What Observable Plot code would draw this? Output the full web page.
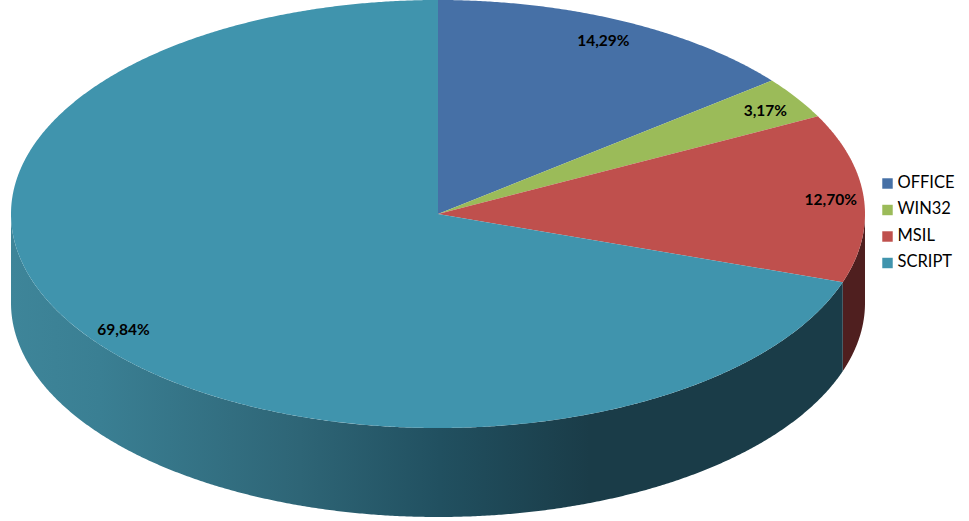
<!DOCTYPE html>
<html>
<head>
<meta charset="utf-8">
<script src="https://cdn.jsdelivr.net/npm/d3@7"></script>
<script src="https://cdn.jsdelivr.net/npm/@observablehq/plot@0.6"></script>
<style>
html,body{margin:0;padding:0;background:#fff;overflow:hidden}
svg{display:block}
</style>
</head>
<body>
<div id="chart"></div>
<script>
const categories = ["OFFICE", "WIN32", "MSIL", "SCRIPT"];
const shares = [14.29, 3.17, 12.70, 69.84];
const labels = ["14,29%", "3,17%", "12,70%", "69,84%"];
const topColors = ["#4670a6", "#9bbb59", "#bf504d", "#4094ad"];
const wallColors = ["#2a3d56", "#4d5d2c", "#4f1f1f", "url(#scriptWall)"];

const W = 969, H = 521;
const cx = 438, cy = 214, rx = 427, ry = 214, depth = 89;
const labelNudge = [[-2, 0], [4, 1], [9, 0], [-3, 3]];
const total = d3.sum(shares);
const px = a => cx + rx * Math.sin(a);
const py = a => cy - ry * Math.cos(a);

let acc = 0;
const slices = categories.map((name, i) => {
  const a0 = acc / total * 2 * Math.PI;
  acc += shares[i];
  const a1 = acc / total * 2 * Math.PI;
  return {name, i, a0, a1, mid: (a0 + a1) / 2};
});

const arcPoints = (a, b) => {
  const n = Math.max(2, Math.ceil((b - a) * 180));
  return d3.range(n + 1).map(k => a + (b - a) * k / n);
};

const topPts = slices.flatMap(s =>
  arcPoints(s.a0, s.a1).map(a => ({name: s.name, x: px(a), y: py(a)}))
);

// side wall: only the part of each slice that faces the viewer
const PI = Math.PI;
const wall = slices.flatMap((s, i) => {
  const a = Math.max(s.a0, PI / 2), b = Math.min(s.a1, 3 * PI / 2);
  if (b <= a) return [];
  return arcPoints(a, b).map(t => ({
    name: s.name, color: wallColors[i], x: px(t), y1: py(t), y2: py(t) + depth
  }));
});

// shading of the script wall, left to right
const shadeStops = [[11, "#3e8599"], [100, "#3a7f93"], [300, "#2e6576"], [440, "#215060"], [590, "#1a3c48"], [850, "#1a3c48"]];
const gradientDefs = () => {
  const defs = d3.create("svg:defs");
  const g = defs.append("linearGradient").attr("id", "scriptWall")
    .attr("gradientUnits", "userSpaceOnUse")
    .attr("x1", 11).attr("x2", 850).attr("y1", 0).attr("y2", 0);
  for (const [x, c] of shadeStops) {
    g.append("stop").attr("offset", (x - 11) / (850 - 11)).attr("stop-color", c);
  }
  return defs.node();
};

const labelData = slices.map(s => ({
  text: labels[s.i],
  x: cx + 0.9 * rx * Math.sin(s.mid) + labelNudge[s.i][0],
  y: cy - 0.9 * ry * Math.cos(s.mid) + labelNudge[s.i][1]
}));
const legendData = categories.map((name, i) => ({name, x: 887, y: 183 + i * 26.5}));

const chart = Plot.plot({
  width: W, height: H,
  margin: 0,
  x: {domain: [0, W], range: [0, W], axis: null},
  y: {domain: [0, H], range: [0, H], axis: null},
  color: {domain: categories, range: topColors},
  style: {background: "#fff"},
  marks: [
    gradientDefs,
    Plot.area(wall, {
      x1: "x", x2: "x", y1: "y1", y2: "y2", z: "name",
      fill: {value: "color", scale: null}
    }),
    Plot.area(topPts, {
      x1: "x", y1: "y", x2: () => cx, y2: () => cy,
      z: "name", fill: "name"
    }),
    Plot.text(labelData, {
      x: "x", y: "y", text: "text",
      fontFamily: "Lato", fontWeight: 700, fontSize: 15.5, fill: "#000"
    }),
    Plot.dot(legendData, {
      x: "x", y: "y", symbol: "square", r: 5.9, fill: "name"
    }),
    Plot.text(legendData, {
      x: () => 897, y: "y", text: "name", textAnchor: "start", dy: -1,
      fontFamily: "Lato", fontSize: 16.5, fill: "#000"
    })
  ]
});
document.getElementById("chart").appendChild(chart);
</script>
</body>
</html>
